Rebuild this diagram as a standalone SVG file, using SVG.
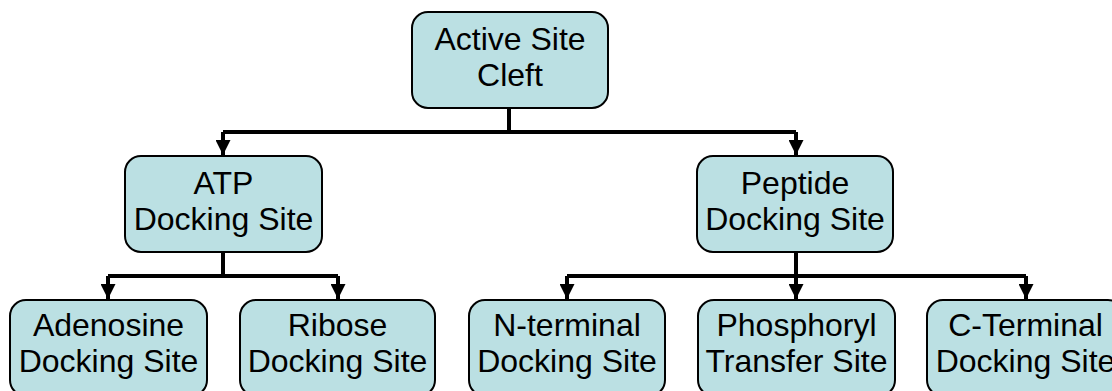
<svg xmlns="http://www.w3.org/2000/svg" width="1112" height="391" viewBox="0 0 1112 391">
<defs>
<style>
.box{fill:#BBE0E3;stroke:#000;stroke-width:2}
.lbl{font-family:"Liberation Sans",Arial,sans-serif;font-size:32px;fill:#000;text-anchor:middle}
.con{fill:none;stroke:#000;stroke-width:4}
</style>
<marker id="ah" markerUnits="userSpaceOnUse" markerWidth="16" markerHeight="15" refX="15" refY="7.5" orient="auto">
<path d="M0,0 L15,7.5 L0,15 Z" fill="#000"/>
</marker>
</defs>
<rect width="1112" height="391" fill="#fff"/>
<g id="connectors">
<path class="con" d="M509,108 V132"/>
<path class="con" d="M223,132 H796"/>
<path class="con" d="M223,132 V155" marker-end="url(#ah)"/>
<path class="con" d="M796,132 V155" marker-end="url(#ah)"/>
<path class="con" d="M223,252 V276"/>
<path class="con" d="M108,276 H338"/>
<path class="con" d="M108,276 V299" marker-end="url(#ah)"/>
<path class="con" d="M338,276 V299" marker-end="url(#ah)"/>
<path class="con" d="M796,252 V276"/>
<path class="con" d="M567,276 H1026"/>
<path class="con" d="M567,276 V299" marker-end="url(#ah)"/>
<path class="con" d="M796,276 V299" marker-end="url(#ah)"/>
<path class="con" d="M1026,276 V299" marker-end="url(#ah)"/>
</g>
<g id="n-active">
<rect class="box" x="412" y="12" width="196" height="96" rx="16"/>
<text class="lbl" x="510" y="50">Active Site</text>
<text class="lbl" x="510" y="86">Cleft</text>
</g>
<g id="n-atp">
<rect class="box" x="125" y="156" width="197" height="96" rx="16"/>
<text class="lbl" x="223.5" y="194">ATP</text>
<text class="lbl" x="223.5" y="230">Docking Site</text>
</g>
<g id="n-peptide">
<rect class="box" x="697" y="156" width="196" height="96" rx="16"/>
<text class="lbl" x="795" y="194">Peptide</text>
<text class="lbl" x="795" y="230">Docking Site</text>
</g>
<g id="n-adenosine">
<rect class="box" x="10" y="300" width="197" height="96" rx="16"/>
<text class="lbl" x="108.5" y="336">Adenosine</text>
<text class="lbl" x="108.5" y="372">Docking Site</text>
</g>
<g id="n-ribose">
<rect class="box" x="240" y="300" width="195" height="96" rx="16"/>
<text class="lbl" x="337.5" y="336">Ribose</text>
<text class="lbl" x="337.5" y="372">Docking Site</text>
</g>
<g id="n-nterm">
<rect class="box" x="469" y="300" width="196" height="96" rx="16"/>
<text class="lbl" x="567" y="336">N-terminal</text>
<text class="lbl" x="567" y="372">Docking Site</text>
</g>
<g id="n-phos">
<rect class="box" x="698" y="300" width="197" height="96" rx="16"/>
<text class="lbl" x="796.5" y="336">Phosphoryl</text>
<text class="lbl" x="796.5" y="372">Transfer Site</text>
</g>
<g id="n-cterm">
<rect class="box" x="927" y="300" width="197" height="96" rx="16"/>
<text class="lbl" x="1025.5" y="336">C-Terminal</text>
<text class="lbl" x="1025.5" y="372">Docking Site</text>
</g>
</svg>
